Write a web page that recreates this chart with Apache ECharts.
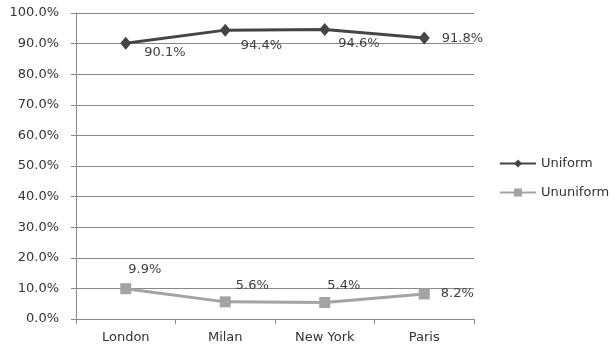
<!DOCTYPE html>
<html>
<head>
<meta charset="utf-8">
<script src="https://cdn.jsdelivr.net/npm/echarts@6/dist/echarts.min.js"></script>
<style>
  html, body { margin: 0; padding: 0; background: #fff; }
  #chart { width: 614px; height: 350px; }
</style>
</head>
<body>
<div id="chart"></div>
<script>
const cities = ['London', 'Milan', 'New York', 'Paris'];
const uniform = [90.1, 94.4, 94.6, 91.8];
const ununiform = [9.9, 5.6, 5.4, 8.2];
const yTicks = [0, 10, 20, 30, 40, 50, 60, 70, 80, 90, 100];

// label placement per point (offset from the right of the marker)
const uniformLabelOffsets = [[8, 9], [5, 15], [3, 14], [7, 1]];
const ununiformLabelOffsets = [[-8, -19], [0, -16], [-8, -17], [6, 0]];

const FONT = 'DejaVu Sans';
const TEXT = '#404040';

function withLabels(values, offsets) {
  return values.map((v, i) => ({
    value: v,
    label: { offset: offsets[i] }
  }));
}

const chart = echarts.init(document.getElementById('chart'));
chart.setOption({
  animation: false,
  backgroundColor: '#fff',
  grid: { left: 76, right: 140, top: 13, bottom: 31 },
  legend: {
    orient: 'vertical',
    left: 494,
    top: 152,
    itemWidth: 36,
    itemHeight: 10,
    itemGap: 16,
    textStyle: { fontFamily: FONT, fontSize: 13, color: '#333' },
    data: ['Uniform', 'Ununiform']
  },
  xAxis: {
    type: 'category',
    data: cities,
    boundaryGap: true,
    axisLine: { lineStyle: { color: '#888', width: 1 } },
    axisTick: { show: true, length: 5, lineStyle: { color: '#888' } },
    axisLabel: { fontFamily: FONT, fontSize: 13, color: '#333', margin: 12 }
  },
  yAxis: {
    type: 'value',
    min: yTicks[0],
    max: yTicks[yTicks.length - 1],
    interval: 10,
    axisLine: { show: true, lineStyle: { color: '#888', width: 1 } },
    axisTick: { show: true, length: 5, lineStyle: { color: '#888' } },
    splitLine: { lineStyle: { color: '#888', width: 1 } },
    axisLabel: {
      fontFamily: FONT, fontSize: 13, color: '#333', margin: 17,
      formatter: v => v.toFixed(1) + '%'
    }
  },
  series: [
    {
      name: 'Uniform',
      type: 'line',
      data: withLabels(uniform, uniformLabelOffsets),
      symbol: 'diamond',
      symbolSize: [11, 13],
      color: '#454545',
      lineStyle: { color: '#454545', width: 3 },
      itemStyle: { color: '#454545' },
      label: {
        show: true, position: 'right', distance: 5,
        fontFamily: FONT, fontSize: 13, color: TEXT,
        formatter: p => p.value.toFixed(1) + '%'
      }
    },
    {
      name: 'Ununiform',
      type: 'line',
      data: withLabels(ununiform, ununiformLabelOffsets),
      symbol: 'rect',
      symbolSize: 11,
      color: '#a3a3a3',
      lineStyle: { color: '#a3a3a3', width: 3 },
      itemStyle: { color: '#a3a3a3' },
      label: {
        show: true, position: 'right', distance: 5,
        fontFamily: FONT, fontSize: 13, color: TEXT,
        formatter: p => p.value.toFixed(1) + '%'
      }
    }
  ]
});
</script>
</body>
</html>
